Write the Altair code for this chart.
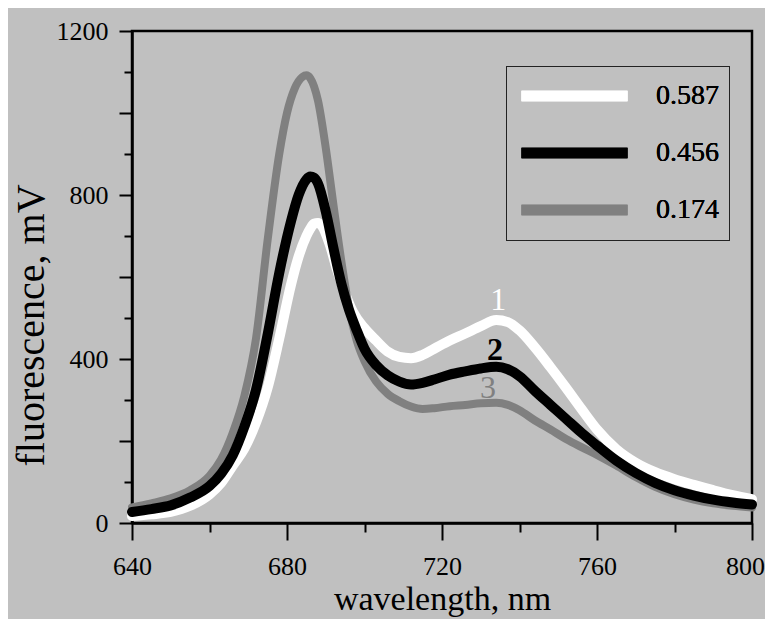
import altair as alt
import pandas as pd

# ---- data ----
series_labels = ["0.587", "0.456", "0.174"]
series_colors = ["#ffffff", "#000000", "#808080"]

wl_587 = [640, 645, 650, 655, 660, 663, 666, 669, 672, 675, 678, 681, 683, 685, 686, 687, 688, 689,
          691, 693, 695, 697, 700, 703, 706, 709, 712, 715, 718, 722, 726, 730, 734, 737, 740, 744,
          748, 752, 756, 760, 765, 770, 775, 780, 785, 790, 795, 800]
fl_587 = [17, 21, 27, 42, 70, 98, 140, 182, 245, 330, 450, 580, 650, 700, 718, 730, 732, 725,
          680, 615, 560, 515, 475, 445, 418, 405, 402, 410, 425, 445, 462, 480, 495, 490, 470, 428,
          380, 330, 278, 228, 180, 147, 124, 107, 93, 80, 68, 58]

wl_456 = [640, 645, 650, 655, 660, 663, 666, 669, 672, 675, 678, 681, 683, 685, 686, 687, 688, 690,
          692, 694, 696, 698, 700, 703, 706, 709, 712, 715, 718, 722, 726, 730, 734, 737, 740, 744,
          748, 752, 756, 760, 765, 770, 775, 780, 785, 790, 795, 800]
fl_456 = [27, 34, 43, 62, 90, 120, 165, 235, 325, 460, 610, 735, 800, 838, 845, 842, 828, 760,
          670, 585, 520, 470, 425, 385, 360, 345, 338, 342, 350, 362, 370, 377, 381, 375, 358, 322,
          288, 254, 220, 189, 152, 122, 98, 80, 67, 57, 50, 45]

wl_174 = [640, 645, 650, 655, 660, 663, 666, 669, 672, 675, 678, 680, 682, 684, 685, 686, 688, 690,
          692, 694, 696, 698, 700, 703, 706, 709, 712, 715, 718, 722, 726, 730, 734, 737, 740, 744,
          748, 752, 756, 760, 765, 770, 775, 780, 785, 790, 795, 800]
fl_174 = [38, 48, 60, 80, 115, 155, 220, 310, 450, 690, 900, 1000, 1060, 1088, 1092, 1085, 1030, 915,
          775, 640, 525, 445, 395, 345, 315, 297, 284, 278, 280, 285, 288, 292, 293, 288, 275, 250,
          228, 205, 185, 166, 140, 112, 88, 70, 57, 48, 42, 38]

x_ticks = list(range(640, 801, 10))
y_ticks = list(range(0, 1201, 100))

ann_text = ["1", "2", "3"]
ann_x = [734.5, 733.7, 731.9]
ann_y = [544, 422, 329]
ann_color = ["#ffffff", "#000000", "#808080"]
ann_weight = ["normal", "bold", "normal"]

FONT = "Liberation Serif"

frames = []
for lab, wl, fl in zip(series_labels, [wl_587, wl_456, wl_174], [fl_587, fl_456, fl_174]):
    frames.append(pd.DataFrame({"wavelength": wl, "fluorescence": fl, "sample": lab}))
df = pd.concat(frames, ignore_index=True)

ann = pd.DataFrame({"t": ann_text, "x": ann_x, "y": ann_y, "c": ann_color, "w": ann_weight})

x_scale = alt.Scale(domain=[640, 800], nice=False, zero=False)
y_scale = alt.Scale(domain=[0, 1200], nice=False)

x_axis = alt.Axis(
    values=x_ticks,
    labelExpr="datum.value % 40 === 0 ? datum.label : ''",
    tickSize={"condition": {"test": "datum.value % 40 === 0", "value": 17}, "value": 9},
    labelOffset={"condition": {"test": "datum.value === 800", "value": -7}, "value": 0},
    tickWidth=2, tickColor="black", domainColor="black", domainWidth=2.5,
    labelFont=FONT, labelFontSize=26, labelColor="black", labelPadding=13,
    labelFlush=False, labelOverlap=False, grid=False, format="d",
    title="wavelength, nm", titleFont=FONT, titleFontSize=34, titleFontWeight="normal",
    titleColor="black", titlePadding=3,
)
y_axis = alt.Axis(
    values=y_ticks,
    labelExpr="datum.value % 400 === 0 ? datum.label : ''",
    tickSize={"condition": {"test": "datum.value % 200 === 0", "value": 13}, "value": 8},
    tickWidth=2, tickColor="black", domainColor="black", domainWidth=2.5,
    labelFont=FONT, labelFontSize=26, labelColor="black", labelPadding=11,
    labelFlush=False, labelOverlap=False, grid=False, format="d",
    title="fluorescence, mV", titleFont=FONT, titleFontSize=40, titleFontWeight="normal",
    titleColor="black", titleX=-101, titleY=294, titleBaseline="middle", titleAngle=270,
)

legend = alt.Legend(
    title=None, orient="none", legendX=374, legendY=35,
    symbolType="stroke", symbolSize=11236, symbolStrokeWidth=10.5,
    labelFont=FONT, labelFontSize=28, labelColor="black", labelOffset=23,
    padding=10, strokeColor="#222222", rowPadding=17, clipHeight=40,
)

color = alt.Color("sample:N", scale=alt.Scale(domain=series_labels, range=series_colors),
                  legend=legend)

widths = {"0.587": 10, "0.456": 10, "0.174": 8}
layers = []
for lab in ["0.587", "0.174", "0.456"]:
    layers.append(
        alt.Chart(df)
        .transform_filter(alt.datum.sample == lab)
        .mark_line(strokeWidth=widths[lab], strokeCap="round", strokeJoin="round",
                   interpolate="monotone")
        .encode(
            x=alt.X("wavelength:Q", scale=x_scale, axis=x_axis),
            y=alt.Y("fluorescence:Q", scale=y_scale, axis=y_axis),
            color=color,
            order=alt.Order("wavelength:Q"),
        )
    )

for wt in ["normal", "bold"]:
    layers.append(
        alt.Chart(ann)
        .transform_filter(alt.datum.w == wt)
        .mark_text(font=FONT, fontSize=32, fontWeight=wt, baseline="middle", align="center")
        .encode(
            x=alt.X("x:Q", scale=x_scale),
            y=alt.Y("y:Q", scale=y_scale),
            text="t:N",
            color=alt.Color("c:N", scale=None, legend=None),
        )
    )

chart = (
    alt.layer(*layers)
    .resolve_scale(color="independent")
    .properties(
        width=620, height=492,
        autosize=alt.AutoSizeParams(type="none"),
        padding={"left": 124, "top": 23, "right": 13, "bottom": 96},
        background="#c0c0c0",
    )
    .configure_view(stroke="black", strokeWidth=2.5)
)

chart.save("out.html", embed_options={"renderer": "svg", "actions": False})
